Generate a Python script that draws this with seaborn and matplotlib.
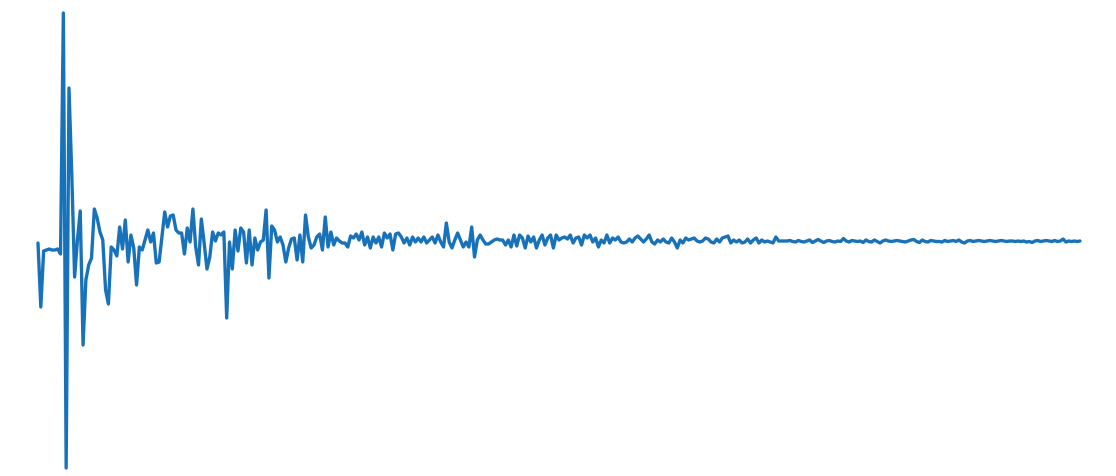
import matplotlib
matplotlib.use("Agg")
import matplotlib.pyplot as plt
import seaborn as sns
import pandas as pd
import numpy as np

# Signal amplitude, in consecutive segments
burst = [-0.2, -6.6, -1.0, -0.9, -0.8, -0.9, -0.9, -0.8, -1.3, 22.8,
         -22.7, 15.3, 6.6, -3.6, 0.1, 3.0, -10.4, -3.9, -2.4, -1.7,
         3.2, 2.3, 0.9, 0.1, -4.9, -6.3, -0.6, -0.9, -1.5, 1.4,
         -0.8, 2.1, -2.1, 0.6, -0.7, -4.4, -0.6, -0.9, 0.1, 1.1]
early = [-0.1, 0.8, -2.2, -2.1, 0.4, 2.9, 1.4, 2.5, 2.6, 1.1,
         0.8, 0.8, -1.3, 1.3, -0.1, 3.2, -0.6, -2.4, 2.2, -0.2,
         -2.8, -1.6, 0.9, 0.0, 0.8, 0.6, 0.9, -7.7, -0.1, -2.8,
         1.1, -1.0, 1.3, 0.9, -2.2, 1.1, -2.4, 0.3, -0.9, -0.1,
         0.1, 3.1, -3.7, 1.5, 1.1, -0.1]
middle1 = [0.4, -0.4, -2.1, -0.7, 0.2, 0.3, -1.9, 0.6, -2.1, 2.6,
           0.4, -0.7, -0.4, 0.4, 0.7, -0.9, 2.4, -0.6, 0.9, -0.4,
           0.3, 0.0, -0.2, -0.2, -0.6, 0.5, 0.3, 0.7, 0.1, 0.9,
           -0.4, 0.4, -0.7, 0.4, -0.2, 0.4, -0.6, 0.8, 0.3, 0.7,
           -0.9, 0.7, 0.8, 0.4]
middle2 = [-0.2, 0.3, -0.4, 0.4, -0.1, 0.3, -0.1, 0.4, -0.2, 0.1,
           0.4, -0.2, 0.6, -0.1, -0.6, 1.8, -0.1, -0.7, 0.1, 0.8,
           0.1, -0.6, -0.1, -0.6, 1.4, -1.6, 0.1, 0.6, 0.1, -0.3,
           -0.3, -0.1, 0.1, 0.2, 0.1, 0.1, -0.4, 0.1, -0.6, 0.6,
           -0.5, 0.6, 0.3, -0.7, 0.5, -0.1, 0.4, -0.7]
middle3 = [0.1, 0.6, -0.4, 0.3, 0.6, -0.7, 0.6, 0.1, 0.3, 0.4,
           0.2, 0.6, -0.2, 0.3, 0.4, -0.4, 0.6, 0.3, 0.6, -0.1,
           0.3, -0.6, 0.1, -0.2, 0.6, -0.2, 0.3, 0.1, 0.4, -0.1,
           -0.2, -0.1, 0.2, -0.1, 0.3, 0.5, 0.2,
           -0.1, 0.2, 0.6, -0.1, -0.3, 0.1, -0.1, 0.2, -0.1]
late1 = [-0.2, 0.3, -0.1, -0.7, 0.1, -0.2, 0.3, 0.1, 0.2,
         0.3, 0.0, -0.1, 0.0, 0.3, 0.2, -0.1, -0.2, 0.2, -0.1,
         0.3, 0.4, 0.5, -0.2, 0.1, -0.1, 0.1, -0.2, -0.1,
         0.2, -0.2, 0.1, 0.3, -0.2, 0.1, -0.1, 0.0, -0.1,
         -0.2, 0.4, 0.0, 0.0, 0.0]
tail1 = [0, 0.05, -0.05, -0.1, 0.05, -0.05, -0.1, 0, 0.1, -0.15,
         0, 0.15, 0, -0.15, 0, 0.05, -0.05, -0.1, 0, -0.05, 0.25,
         0, -0.1, 0.05, 0, -0.05]
tail2 = [0, -0.15, 0.1, -0.05, -0.1, 0.1, -0.05, -0.2, 0, 0.1,
         0, -0.05, 0, 0.05, 0, -0.05, -0.1, 0, 0.1, 0.15, -0.05,
         -0.15, 0.1, -0.05, -0.1, 0.05, 0, -0.05]
tail3 = [-0.05, -0.1, 0.05, -0.05, 0, 0.05, -0.05, 0.1, -0.1, -0.2,
         0, 0.05, -0.05, 0, 0.05, 0, -0.05, 0, 0.05, 0,
         -0.05, 0, 0.05, 0, -0.05, 0]
tail4 = [0, -0.05, 0, -0.05, 0, -0.1, -0.05, -0.15, 0, 0.05,
         -0.05, 0, 0.05, 0, -0.05, 0.05, -0.05, 0, 0.2, -0.1, 0,
         -0.05, 0, -0.05, 0]

values = burst + early + middle1 + middle2 + middle3 + late1 + tail1 + tail2 + tail3 + tail4
df = pd.DataFrame({"t": np.arange(len(values)), "amplitude": values})

sns.set_style("white")
fig = plt.figure(figsize=(11.16, 4.76), dpi=100)
ax = fig.add_axes([0, 0, 1, 1])
sns.lineplot(data=df, x="t", y="amplitude", ax=ax, color="#1872ba",
             linewidth=2.4, solid_joinstyle="round", solid_capstyle="round")
n = len(values) - 1
ax.set_xlim(-38 / 1042 * n, n + 36 / 1042 * n)
ax.set_ylim(-23.5, 24.1)
ax.axis("off")
fig.savefig("out.png", dpi=100)
